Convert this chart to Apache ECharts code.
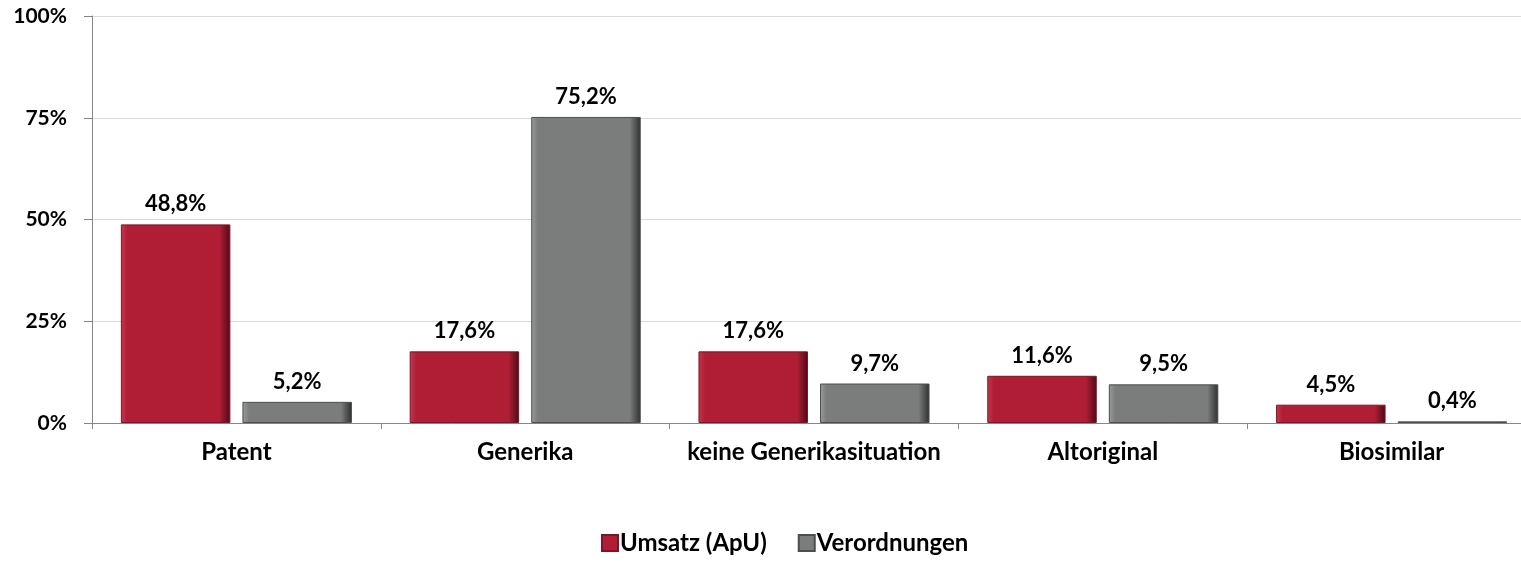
<!DOCTYPE html>
<html>
<head>
<meta charset="utf-8">
<script src="https://cdn.jsdelivr.net/npm/echarts@6/dist/echarts.min.js"></script>
<style>
  html, body { margin: 0; padding: 0; background: #fff; overflow: hidden; }
  /* Original ist rechts angeschnitten: Chart etwas breiter als das Fenster */
  #chart { width: 1540px; height: 576px; }
</style>
</head>
<body>
<div id="chart"></div>
<script>
const categories = ['Patent', 'Generika', 'keine Generikasituation', 'Altoriginal', 'Biosimilar']
const umsatz = [48.8, 17.6, 17.6, 11.6, 4.5]
const verordnungen = [5.2, 75.2, 9.7, 9.5, 0.4]
const yTicks = [0, 25, 50, 75, 100]

const font = 'Lato, "Open Sans", sans-serif'

// Excel-artige Abschrägung grob nachbilden
const bevel = (light, mid, dark) => ({
  type: 'linear', x: 0, y: 0, x2: 1, y2: 0,
  colorStops: [
    { offset: 0, color: light },
    { offset: 0.06, color: mid },
    { offset: 0.9, color: mid },
    { offset: 1, color: dark }
  ]
})

const label = {
  show: true,
  position: 'top',
  distance: 9,
  color: '#000',
  fontFamily: font,
  fontWeight: 'bold',
  fontSize: 22,
  formatter: p => p.value.toFixed(1).replace('.', ',') + '%'
}

const chart = echarts.init(document.getElementById('chart'))
chart.setOption({
  animation: false,
  grid: { left: 92, right: 4, top: 16, bottom: 153 },
  legend: {
    bottom: 16,
    left: 596,
    itemWidth: 16,
    itemHeight: 16,
    itemGap: 31,
    icon: 'rect',
    textStyle: { fontFamily: font, fontWeight: 'bold', fontSize: 24, color: '#000', padding: [0, 0, 0, -3] }
  },
  xAxis: {
    type: 'category',
    data: categories,
    axisLine: { lineStyle: { color: '#868686' } },
    axisTick: { show: true, length: 6, lineStyle: { color: '#868686' } },
    axisLabel: { interval: 0, margin: 17, color: '#000', fontFamily: font, fontWeight: 'bold', fontSize: 24 }
  },
  yAxis: {
    type: 'value',
    min: 0,
    max: 100,
    interval: 25,
    axisLine: { show: true, lineStyle: { color: '#868686' } },
    axisTick: { show: true, length: 8, lineStyle: { color: '#868686' } },
    splitLine: { lineStyle: { color: '#d9d9d9' } },
    axisLabel: {
      margin: 25,
      color: '#000',
      fontFamily: font,
      fontWeight: 'bold',
      fontSize: 21,
      formatter: v => yTicks.includes(v) ? v + '%' : ''
    }
  },
  series: [
    {
      name: 'Umsatz (ApU)',
      type: 'bar',
      data: umsatz,
      barGap: '11%',
      barCategoryGap: '20%',
      itemStyle: {
        color: bevel('#c8374c', '#b01e36', '#4e0a14'),
        borderColor: '#7e1427',
        borderWidth: 1
      },
      label
    },
    {
      name: 'Verordnungen',
      type: 'bar',
      data: verordnungen,
      itemStyle: {
        color: bevel('#9a9c9b', '#7a7d7c', '#2e2e2e'),
        borderColor: '#4d4f4e',
        borderWidth: 1
      },
      label
    }
  ]
})
</script>
</body>
</html>
